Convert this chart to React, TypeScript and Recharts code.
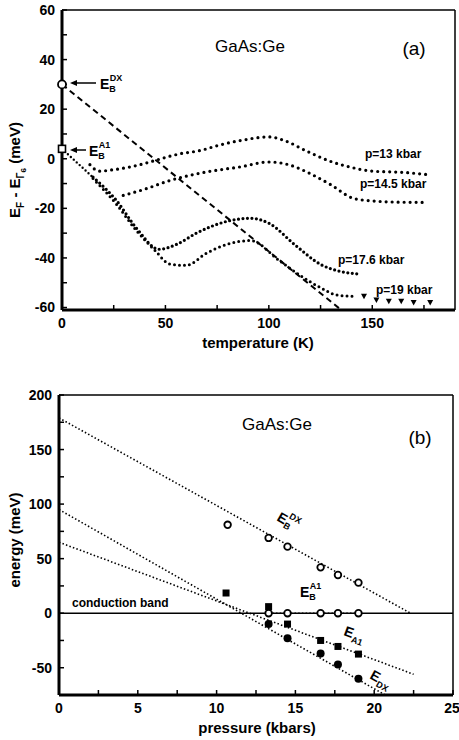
import React from "react";
import { ComposedChart, Line, Scatter, XAxis, YAxis, ReferenceLine } from "recharts";

// ---- panel (a): E_F - E_Γ6 vs temperature ----
const p13 = [
  { t: 13.5, e: -2.4 }, { t: 18, e: -5 }, { t: 25, e: -4.4 }, { t: 33, e: -3.3 },
  { t: 42.5, e: -1.3 }, { t: 50.7, e: 0.7 }, { t: 57, e: 2 }, { t: 66.7, e: 3.3 },
  { t: 76, e: 5.5 }, { t: 86, e: 7.3 }, { t: 100, e: 8.8 }, { t: 108, e: 7.2 },
  { t: 118, e: 3.2 }, { t: 129, e: -0.8 }, { t: 140, e: -3.5 }, { t: 150, e: -5 },
  { t: 165, e: -5.5 }, { t: 178, e: -6.5 },
];
const p145 = [
  { t: 29.6, e: -14.8 }, { t: 41, e: -12 }, { t: 52, e: -8.8 }, { t: 70, e: -5.3 },
  { t: 86, e: -3.3 }, { t: 100, e: -1.3 }, { t: 110, e: -2.5 }, { t: 120, e: -6 },
  { t: 130, e: -10.5 }, { t: 141, e: -16 }, { t: 150, e: -17 }, { t: 163, e: -17.5 },
  { t: 175, e: -17.6 },
];
const p176 = [
  { t: 15, e: -7.4 }, { t: 26.5, e: -17 }, { t: 36, e: -28 }, { t: 47, e: -36.5 },
  { t: 55.5, e: -34.5 }, { t: 65, e: -30 }, { t: 81, e: -25 }, { t: 91, e: -24 },
  { t: 100, e: -26 }, { t: 113, e: -35 }, { t: 125, e: -42.6 }, { t: 135, e: -45.5 },
  { t: 142.5, e: -46.4 },
];
const p19 = [
  { t: 15, e: -8 }, { t: 26, e: -18 }, { t: 36, e: -29 }, { t: 45, e: -37 },
  { t: 52, e: -42.4 }, { t: 60, e: -43 }, { t: 70, e: -38 }, { t: 80, e: -34.5 },
  { t: 91, e: -33 }, { t: 105, e: -41 }, { t: 115, e: -47 }, { t: 125, e: -52 },
  { t: 133, e: -55 }, { t: 141, e: -55.5 },
];
const p19tail = [
  { t: 146, e: -55.5 }, { t: 152, e: -57 }, { t: 158, e: -57.5 },
  { t: 164, e: -57.5 }, { t: 170, e: -58 }, { t: 178, e: -58 },
];
const ebdxLineA = [{ t: 0, e: 30 }, { t: 135, e: -61 }];
const eba1LineA = [{ t: 0, e: 4 }, { t: 15, e: -7.5 }];
const ebdxPointA = [{ t: 0, e: 30 }];
const eba1PointA = [{ t: 0, e: 4 }];

const tempTicks = [0, 25, 50, 75, 100, 125, 150, 175];
const efTicks = [-60, -50, -40, -30, -20, -10, 0, 10, 20, 30, 40, 50, 60];

// ---- panel (b): energy vs pressure ----
const ebdxPts = [
  { p: 10.7, e: 81 }, { p: 13.3, e: 69 }, { p: 14.5, e: 61 },
  { p: 16.6, e: 42 }, { p: 17.7, e: 35 }, { p: 19, e: 28 },
];
const eba1Pts = [
  { p: 13.3, e: 0 }, { p: 14.5, e: 0 }, { p: 16.6, e: 0 }, { p: 17.7, e: 0 }, { p: 19, e: 0 },
];
const ea1Pts = [
  { p: 10.6, e: 18.5 }, { p: 13.3, e: 6 }, { p: 14.5, e: -10 },
  { p: 16.6, e: -25 }, { p: 17.7, e: -30.5 }, { p: 19, e: -37.5 },
];
const edxPts = [
  { p: 13.3, e: -10 }, { p: 14.5, e: -23 }, { p: 16.6, e: -37 },
  { p: 17.7, e: -47 }, { p: 19, e: -60 },
];
const ebdxFit = [{ p: 0, e: 179 }, { p: 22.3, e: 0 }];
const ea1Fit = [{ p: 0, e: 65 }, { p: 22.5, e: -56 }];
const edxFit = [{ p: 0, e: 95 }, { p: 20.7, e: -75 }];
const eba1Fit = [{ p: 13.3, e: 0 }, { p: 19, e: 0 }];

const pressTicks = [0, 2.5, 5, 7.5, 10, 12.5, 15, 17.5, 20, 22.5, 25];
const energyTicks = [-75, -50, -25, 0, 25, 50, 75, 100, 125, 150, 175, 200];

const font = "'Liberation Sans', Arial, sans-serif";
const tickStyle = { fontFamily: font, fontSize: 14, fontWeight: 700, fill: "#000" };

const openCircle = (r: number) => (p: any) => (
  <circle cx={p.cx} cy={p.cy} r={r} fill="#fff" stroke="#000" strokeWidth={1.8} />
);
const openSquare = (s: number) => (p: any) => (
  <rect x={p.cx - s / 2} y={p.cy - s / 2} width={s} height={s} fill="#fff" stroke="#000" strokeWidth={1.6} />
);
const filledCircle = (r: number) => (p: any) => <circle cx={p.cx} cy={p.cy} r={r} fill="#000" />;
const filledSquare = (s: number) => (p: any) => (
  <rect x={p.cx - s / 2} y={p.cy - s / 2} width={s} height={s} fill="#000" />
);
const triangle = (p: any) => (
  <polygon points={`${p.cx - 3},${p.cy - 2.5} ${p.cx + 3},${p.cy - 2.5} ${p.cx},${p.cy + 3}`} fill="#000" />
);

const dotted = { stroke: "#000", strokeWidth: 3.2, strokeDasharray: "0 6", strokeLinecap: "round" as const };
const fine = { stroke: "#000", strokeWidth: 1.6, strokeDasharray: "1.5 2.2" };

function PanelA() {
  return (
    <ComposedChart width={459} height={360} margin={{ top: 10, right: 4, bottom: 0, left: 0 }}>
      <XAxis
        type="number" dataKey="t" domain={[0, 190]} ticks={tempTicks}
        tickFormatter={(v: number) => (v % 50 === 0 ? String(v) : "")}
        height={50} tickSize={-5} tickMargin={13}
        axisLine={{ stroke: "#000", strokeWidth: 3 }} tickLine={{ stroke: "#000", strokeWidth: 1.5 }}
        tick={tickStyle} allowDuplicatedCategory={false}
      />
      <YAxis
        type="number" dataKey="e" domain={[-60, 60]} ticks={efTicks}
        tickFormatter={(v: number) => (v % 20 === 0 ? String(v) : "")}
        width={62} tickSize={-5} tickMargin={12}
        axisLine={{ stroke: "#000", strokeWidth: 3 }} tickLine={{ stroke: "#000", strokeWidth: 1.5 }}
        tick={tickStyle}
      />
      <ReferenceLine y={60} stroke="#000" strokeWidth={1.5} />
      <ReferenceLine x={190} stroke="#000" strokeWidth={1.5} />
      <Line data={ebdxLineA} dataKey="e" dot={false} isAnimationActive={false} stroke="#000" strokeWidth={2} strokeDasharray="6 4" />
      <Line data={eba1LineA} dataKey="e" dot={false} isAnimationActive={false} {...dotted} strokeWidth={2.4} strokeDasharray="0 4" />
      <Line data={p13} dataKey="e" type="monotone" dot={false} isAnimationActive={false} {...dotted} />
      <Line data={p145} dataKey="e" type="monotone" dot={false} isAnimationActive={false} {...dotted} />
      <Line data={p176} dataKey="e" type="monotone" dot={false} isAnimationActive={false} {...dotted} strokeDasharray="0 4.5" />
      <Line data={p19} dataKey="e" type="monotone" dot={false} isAnimationActive={false} {...dotted} strokeWidth={3} strokeDasharray="0 5" />
      <Scatter data={p19tail} dataKey="e" shape={triangle} isAnimationActive={false} />
      <Scatter data={ebdxPointA} dataKey="e" shape={openCircle(4)} isAnimationActive={false} />
      <Scatter data={eba1PointA} dataKey="e" shape={openSquare(7)} isAnimationActive={false} />

      <text x={250} y={52} textAnchor="middle" fontFamily={font} fontSize={17}>GaAs:Ge</text>
      <text x={414} y={55} textAnchor="middle" fontFamily={font} fontSize={19}>(a)</text>
      <g fontFamily={font} fontSize={12} fontWeight={700}>
        <text x={365} y={158}>p=13 kbar</text>
        <text x={360} y={188}>p=14.5 kbar</text>
        <text x={338} y={264}>p=17.6 kbar</text>
        <text x={376} y={294}>p=19 kbar</text>
      </g>
      <text x={258} y={348} textAnchor="middle" fontFamily={font} fontSize={15} fontWeight={700}>temperature (K)</text>
      <text transform="translate(20,170) rotate(-90)" textAnchor="middle" fontFamily={font} fontSize={15} fontWeight={700}>
        E<tspan fontSize={10} dy={4}>F</tspan><tspan dy={-4}> - E</tspan><tspan fontSize={10} dy={4}>Γ</tspan><tspan fontSize={8} dy={2}>6</tspan><tspan dy={-6}> (meV)</tspan>
      </text>
      {/* arrows to E_B symbols */}
      <line x1={96} y1={83} x2={74} y2={83} stroke="#000" strokeWidth={1.5} />
      <polygon points="70,83 77,80 77,86" fill="#000" />
      <text x={100} y={89} fontFamily={font} fontSize={14} fontWeight={700}>
        E<tspan fontSize={9} dy={3}>B</tspan><tspan fontSize={9} dx={-6} dy={-11}>DX</tspan>
      </text>
      <line x1={86} y1={150} x2={74} y2={150} stroke="#000" strokeWidth={1.5} />
      <polygon points="70,150 77,147 77,153" fill="#000" />
      <text x={89} y={156} fontFamily={font} fontSize={14} fontWeight={700}>
        E<tspan fontSize={9} dy={3}>B</tspan><tspan fontSize={9} dx={-6} dy={-11}>A1</tspan>
      </text>
    </ComposedChart>
  );
}

function PanelB() {
  return (
    <ComposedChart width={459} height={355} margin={{ top: 10, right: 6, bottom: 0, left: 0 }}>
      <XAxis
        type="number" dataKey="p" domain={[0, 25]} ticks={pressTicks}
        tickFormatter={(v: number) => (v % 5 === 0 ? String(v) : "")}
        height={45} tickSize={-5} tickMargin={13}
        axisLine={{ stroke: "#000", strokeWidth: 3 }} tickLine={{ stroke: "#000", strokeWidth: 1.5 }}
        tick={tickStyle} allowDuplicatedCategory={false}
      />
      <YAxis
        type="number" dataKey="e" domain={[-75, 200]} ticks={energyTicks}
        tickFormatter={(v: number) => (v % 50 === 0 ? String(v) : "")}
        width={59} tickSize={-5} tickMargin={12}
        axisLine={{ stroke: "#000", strokeWidth: 3 }} tickLine={{ stroke: "#000", strokeWidth: 1.5 }}
        tick={tickStyle}
      />
      <ReferenceLine y={200} stroke="#000" strokeWidth={1.5} />
      <ReferenceLine x={25} stroke="#000" strokeWidth={1.5} />
      <ReferenceLine y={0} stroke="#000" strokeWidth={1.6} />
      <Line data={ebdxFit} dataKey="e" dot={false} isAnimationActive={false} {...fine} />
      <Line data={ea1Fit} dataKey="e" dot={false} isAnimationActive={false} {...fine} />
      <Line data={edxFit} dataKey="e" dot={false} isAnimationActive={false} {...fine} />
      <Line data={eba1Fit} dataKey="e" dot={false} isAnimationActive={false} {...fine} />
      <Scatter data={ebdxPts} dataKey="e" shape={openCircle(3.3)} isAnimationActive={false} />
      <Scatter data={eba1Pts} dataKey="e" shape={openCircle(3.3)} isAnimationActive={false} />
      <Scatter data={ea1Pts} dataKey="e" shape={filledSquare(7)} isAnimationActive={false} />
      <Scatter data={edxPts} dataKey="e" shape={filledCircle(4)} isAnimationActive={false} />

      <text x={277} y={45} textAnchor="middle" fontFamily={font} fontSize={17}>GaAs:Ge</text>
      <text x={420} y={59} textAnchor="middle" fontFamily={font} fontSize={19}>(b)</text>
      <text x={72} y={222} fontFamily={font} fontSize={12} fontWeight={700}>conduction band</text>
      <text x={257} y={348} textAnchor="middle" fontFamily={font} fontSize={15} fontWeight={700}>pressure (kbars)</text>
      <text transform="translate(20,155) rotate(-90)" textAnchor="middle" fontFamily={font} fontSize={15} fontWeight={700}>energy (meV)</text>
      <g fontFamily={font} fontWeight={700}>
        <text transform="translate(276,135) rotate(30)" fontSize={14}>
          E<tspan fontSize={9} dy={3}>B</tspan><tspan fontSize={9} dx={-6} dy={-11}>DX</tspan>
        </text>
        <text x={300} y={212} fontSize={14}>
          E<tspan fontSize={9} dy={3}>B</tspan><tspan fontSize={9} dx={-6} dy={-11}>A1</tspan>
        </text>
        <text transform="translate(343,250) rotate(20)" fontSize={14}>
          E<tspan fontSize={9} dy={4}>A1</tspan>
        </text>
        <text transform="translate(369,293) rotate(29)" fontSize={14}>
          E<tspan fontSize={9} dy={4}>DX</tspan>
        </text>
      </g>
    </ComposedChart>
  );
}

export default function App() {
  return (
    <div style={{ position: "absolute", left: 0, top: 0, width: 459, height: 740, background: "#fff" }}>
      <div style={{ position: "absolute", left: 0, top: 0 }}>
        <PanelA />
      </div>
      <div style={{ position: "absolute", left: 0, top: 385 }}>
        <PanelB />
      </div>
    </div>
  );
}
